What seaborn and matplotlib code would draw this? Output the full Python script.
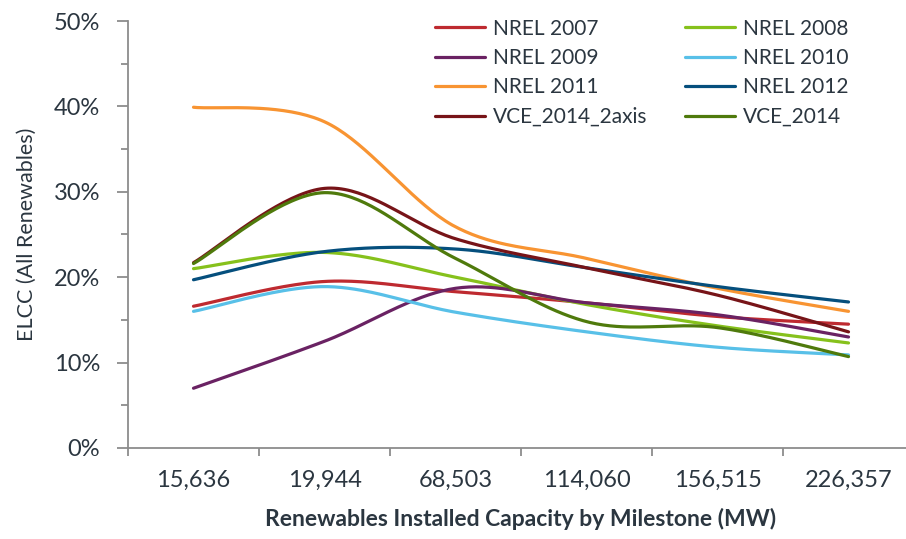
import matplotlib
matplotlib.use("Agg")
import matplotlib.pyplot as plt
import seaborn as sns
import pandas as pd
import numpy as np
from matplotlib.ticker import FixedLocator, FuncFormatter, NullFormatter

# milestones (MW) and ELCC values (%)
milestones = ["15,636", "19,944", "68,503", "114,060", "156,515", "226,357"]

nrel_2007 = [16.6, 19.5, 18.3, 17.0, 15.4, 14.5]
nrel_2008 = [21.0, 22.9, 20.0, 16.8, 14.3, 12.3]
nrel_2009 = [7.0, 12.5, 18.7, 17.0, 15.6, 13.0]
nrel_2010 = [16.0, 18.9, 15.9, 13.6, 11.8, 10.9]
nrel_2011 = [39.9, 38.2, 25.9, 22.2, 18.7, 16.0]
nrel_2012 = [19.7, 23.0, 23.3, 21.1, 18.9, 17.1]
vce_2014_2axis = [21.7, 30.4, 24.5, 21.1, 17.9, 13.6]
vce_2014 = [21.6, 29.9, 22.2, 14.8, 14.1, 10.7]

series = {
    "NREL 2007": nrel_2007,
    "NREL 2008": nrel_2008,
    "NREL 2009": nrel_2009,
    "NREL 2010": nrel_2010,
    "NREL 2011": nrel_2011,
    "NREL 2012": nrel_2012,
    "VCE_2014_2axis": vce_2014_2axis,
    "VCE_2014": vce_2014,
}
colors = {
    "NREL 2007": "#be2a30",
    "NREL 2008": "#86c11c",
    "NREL 2009": "#6a2263",
    "NREL 2010": "#58c0e8",
    "NREL 2011": "#f89432",
    "NREL 2012": "#054f7d",
    "VCE_2014_2axis": "#771418",
    "VCE_2014": "#4f7a0c",
}


def smooth(xs, ys, n=40):
    # catmull-rom style smoothing, like the "smoothed line" option in excel
    p = np.column_stack([xs, ys]).astype(float)
    p = np.vstack([p[0], p, p[-1]])
    out = []
    t = np.linspace(0, 1, n)[:, None]
    for i in range(1, len(p) - 2):
        p0, p1, p2, p3 = p[i - 1], p[i], p[i + 1], p[i + 2]
        m1 = (p2 - p0) / 2
        m2 = (p3 - p1) / 2
        h00 = 2 * t**3 - 3 * t**2 + 1
        h10 = t**3 - 2 * t**2 + t
        h01 = -2 * t**3 + 3 * t**2
        h11 = t**3 - t**2
        seg = h00 * p1 + h10 * m1 + h01 * p2 + h11 * m2
        out.append(seg if i == 1 else seg[1:])
    return np.vstack(out)


rows = []
xpos = np.arange(len(milestones))
for name, vals in series.items():
    pts = smooth(xpos, vals)
    for k, (x, y) in enumerate(pts):
        rows.append({"series": name, "order": k, "x": x, "y": y})
df = pd.DataFrame(rows)

sns.set_style("ticks")
plt.rcParams["font.family"] = ["Lato", "DejaVu Sans"]
text_col = "#2b3640"
axis_col = "#8c8c8c"

fig = plt.figure(figsize=(9.06, 5.39), dpi=100)
ax = fig.add_axes([128 / 906, 91 / 539, 786 / 906, 427 / 539])

sns.lineplot(data=df, x="x", y="y", hue="series", palette=colors,
             units="series", estimator=None, sort=False, linewidth=2.3, ax=ax)

ax.set_xlim(-0.5, len(milestones) - 0.5)
ax.set_ylim(0, 50)

# x: ticks at category boundaries, labels at centers
ax.xaxis.set_major_locator(FixedLocator(np.arange(-0.5, len(milestones), 1.0)))
ax.xaxis.set_major_formatter(NullFormatter())
ax.xaxis.set_minor_locator(FixedLocator(xpos))
ax.xaxis.set_minor_formatter(FuncFormatter(lambda v, p: milestones[int(round(v))]))
ax.tick_params(axis="x", which="major", length=6, width=1.3, color=axis_col, direction="out")
ax.tick_params(axis="x", which="minor", length=0, pad=16, labelsize=17, labelcolor=text_col)

ax.yaxis.set_major_locator(FixedLocator(np.arange(0, 51, 10)))
ax.yaxis.set_minor_locator(FixedLocator(np.arange(5, 50, 10)))
ax.yaxis.set_major_formatter(FuncFormatter(lambda v, p: f"{v:.0f}%"))
ax.tick_params(axis="y", which="major", length=8, width=1.3, color=axis_col,
               pad=12, labelsize=17, labelcolor=text_col)
ax.tick_params(axis="y", which="minor", length=5, width=1.3, color=axis_col)

sns.despine(ax=ax)
for s in ["left", "bottom"]:
    ax.spines[s].set_color(axis_col)
    ax.spines[s].set_linewidth(1.3)

ax.set_xlabel("Renewables Installed Capacity by Milestone (MW)", fontsize=16.5,
              fontweight="bold", color=text_col, labelpad=12)
ax.set_ylabel("ELCC (All Renewables)", fontsize=15.5, color=text_col, labelpad=12)

# legend filled row by row, as in the reference
handles, labels = ax.get_legend_handles_labels()
order = [0, 2, 4, 6, 1, 3, 5, 7]
ax.legend([handles[i] for i in order], [labels[i] for i in order],
          loc="upper left", bbox_to_anchor=(416 / 906, 1.0),
          bbox_transform=fig.transFigure, ncol=2, frameon=False, fontsize=15,
          handlelength=2.4, handletextpad=0.4, columnspacing=1.8, labelspacing=0.45,
          labelcolor=text_col)

fig.savefig("out.png", dpi=100)
